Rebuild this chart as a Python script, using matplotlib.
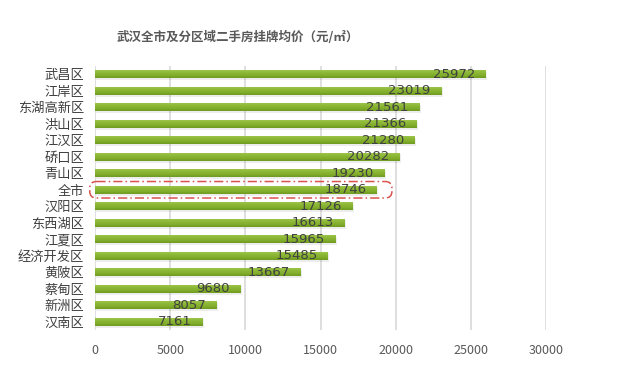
import matplotlib
matplotlib.use("Agg")
import matplotlib.pyplot as plt
import numpy as np
from matplotlib.patches import FancyBboxPatch
from matplotlib.colors import LinearSegmentedColormap

plt.rcParams['font.family'] = ['Noto Sans CJK SC', 'DejaVu Sans']

categories = ["武昌区", "江岸区", "东湖高新区", "洪山区", "江汉区", "硚口区", "青山区", "全市",
              "汉阳区", "东西湖区", "江夏区", "经济开发区", "黄陂区", "蔡甸区", "新洲区", "汉南区"]
values = [25972, 23019, 21561, 21366, 21280, 20282, 19230, 18746,
          17126, 16613, 15965, 15485, 13667, 9680, 8057, 7161]
xticks = [0, 5000, 10000, 15000, 20000, 25000, 30000]
title = "武汉全市及分区域二手房挂牌均价（元/㎡）"
highlight = "全市"

fig = plt.figure(figsize=(6.27, 3.73), dpi=100)
ax = fig.add_axes([0.1515, 0.1153, 0.871 - 0.1515, 0.823 - 0.1153])

y = np.arange(len(categories))
h = 0.5
cmap = LinearSegmentedColormap.from_list("g", ["#a2c852", "#90bb3a", "#84af2e", "#6e9a20"])

# shadow
ax.barh(y + 0.1, values, height=h, left=100, color="#000000", alpha=0.07, zorder=1)
bars = ax.barh(y, values, height=h, color="#88b232", zorder=2)
grad = np.linspace(0, 1, 64).reshape(-1, 1)
for b in bars:
    x0, y0 = b.get_x(), b.get_y()
    w, hh = b.get_width(), b.get_height()
    im = ax.imshow(grad, cmap=cmap, aspect='auto', extent=(x0, x0 + w, y0 + hh, y0),
                   origin='upper', zorder=3)
    im.set_clip_path(b)

for yi, v in zip(y, values):
    ax.text(v - 700, yi, f"{v}", ha='right', va='center', fontsize=9.5,
            color="#404040", zorder=5, family=['DejaVu Sans'])

# highlight box
px_ratio = 1100.0  # x-units per y-unit in screen pixels
hi = categories.index(highlight)
hv = values[hi]
box = FancyBboxPatch((-350, hi - 0.5), hv + 1350, 1.0,
                     boxstyle="round,pad=0,rounding_size=450",
                     mutation_aspect=1 / px_ratio,
                     fill=False, edgecolor="#d9534f", linestyle=(0, (6, 2, 1, 2)),
                     linewidth=1.1, zorder=6, clip_on=False)
ax.add_patch(box)

ax.set_xlim(0, 30000)
ax.set_ylim(len(categories) - 0.5, -0.5)
ax.set_xticks(xticks)
ax.set_xticklabels([str(t) for t in xticks], fontsize=9, color="#595959")
ax.set_yticks(y)
ax.set_yticklabels(categories, fontsize=9.5, color="#404040")
ax.tick_params(axis='both', length=0)
ax.tick_params(axis='x', pad=10)
ax.tick_params(axis='y', pad=8)
for s in ax.spines.values():
    s.set_visible(False)
ax.grid(axis='x', color="#d9d9d9", linewidth=1.2, zorder=0)
ax.set_axisbelow(True)

fig.text(0.38, 0.9, title, ha='center', va='center', fontsize=9, fontweight='bold', color="#595959")

fig.savefig("out.png", dpi=100)
